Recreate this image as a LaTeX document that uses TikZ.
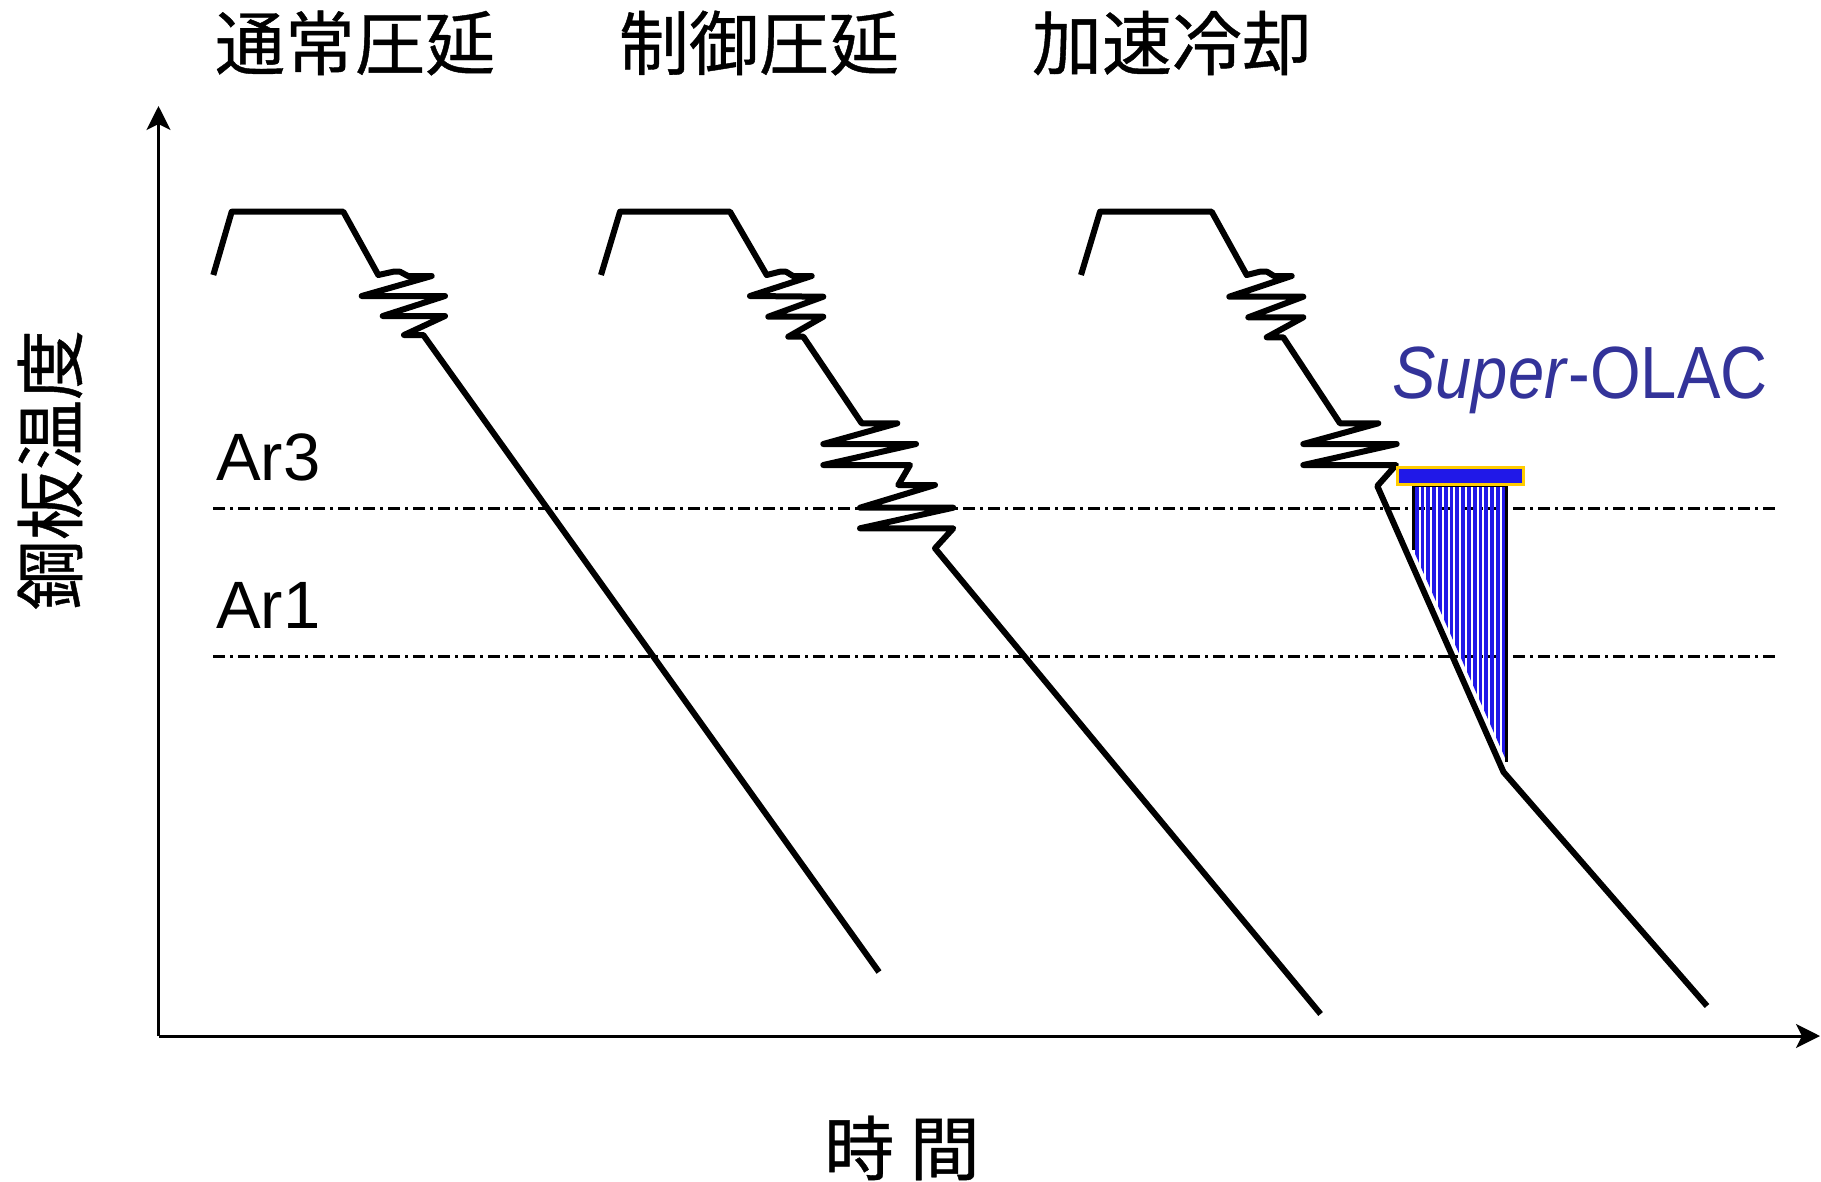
\documentclass[tikz,border=0pt]{standalone}
\usepackage{fontspec}
\setmainfont{Liberation Sans}
\newfontfamily\jpfont[FakeBold=0.6]{Noto Sans CJK JP}
\usetikzlibrary{arrows.meta}
\definecolor{hatchblue}{RGB}{32,24,232}
\definecolor{olacblue}{RGB}{51,51,153}
\definecolor{rimyellow}{RGB}{255,204,0}
\tikzset{
  axisline/.style={line width=3pt, -{Stealth[length=24pt,width=24pt,inset=6pt]}},
  refline/.style={line width=3pt, dash pattern=on 12pt off 5pt on 3pt off 5pt},
  curveline/.style={line width=6pt, line join=round},
  titletext/.style={font=\jpfont\fontsize{70}{80}\selectfont, inner sep=0pt},
  lvltext/.style={font=\fontsize{67}{75}\selectfont, inner sep=0pt, anchor=base west},
}
\begin{document}
\begin{tikzpicture}[x=1pt,y=-1pt]
\useasboundingbox (0,0) rectangle (1821,1181);

% titles
\node[titletext] (t1) at (355,43) {通常圧延};
\node[titletext] (t2) at (759,43) {制御圧延};
\node[titletext] (t3) at (1172,43) {加速冷却};

% axis labels
\node[titletext, rotate=90] (ylab) at (50,470) {鋼板温度};
\node[titletext] (xlab) at (902,1148) {時 間};

% axes
\coordinate (origin) at (158.5,1036);
\coordinate (ytip) at (158.5,106);
\coordinate (xtip) at (1820,1036);
\draw[axisline] (origin) -- (ytip);
\draw[axisline] (origin) -- (xtip);

% reference lines
\coordinate (ar3a) at (213,508);
\coordinate (ar3b) at (1779,508);
\coordinate (ar1a) at (213,656);
\coordinate (ar1b) at (1779,656);
\draw[refline] (ar3a) -- (ar3b);
\draw[refline] (ar1a) -- (ar1b);
\node[lvltext] (ar3) at (216,480) {Ar3};
\node[lvltext] (ar1) at (216,628) {Ar1};

% curve 1: normal rolling
\draw[curveline] (213.3,275) -- (231.7,211.7) -- (343.3,211.7) -- (378.3,275)
  -- (393.3,271.7) -- (400,271.7) -- (408,276) -- (431.7,276)
  -- (361.7,296) -- (445,296) -- (382.7,316) -- (445,316)
  -- (404,335) -- (423.3,335) -- (879,972);

% curve 2: controlled rolling
\draw[curveline] (601,275) -- (620,211.7) -- (730,211.7) -- (766.7,275)
  -- (780,271.7) -- (786,271.7) -- (793,276) -- (811.7,276)
  -- (750,296) -- (823.3,296.7) -- (768.3,316.7) -- (823.3,316.7)
  -- (788.3,336.7) -- (803.3,336.7) -- (861.7,423.3) -- (897.3,423.3)
  -- (823.3,444) -- (916,444) -- (823.3,465) -- (910,465)
  -- (898.3,485) -- (935,485) -- (860,507.7) -- (953.3,507.7)
  -- (860,528.3) -- (953.3,528.3) -- (935,548.3) -- (1320.6,1014);

% curve 3: accelerated cooling
\draw[curveline] (1081,275) -- (1100,211.7) -- (1211.7,211.7) -- (1246.7,275)
  -- (1260,271.7) -- (1267,271.7) -- (1274,276) -- (1291.7,276)
  -- (1229.3,296.7) -- (1303.3,296.7) -- (1248.3,317.3) -- (1303.3,317.3)
  -- (1266.7,337.3) -- (1283.3,337.3) -- (1340,423.3) -- (1378.3,423.3)
  -- (1303.3,444) -- (1396.7,444) -- (1303.3,465) -- (1396,465)
  -- (1377.3,486) -- (1503.5,772) -- (1707,1006);

% Super-OLAC hatched cooling region
\begin{scope}
  \clip (1413.3,485.7) -- (1506.7,485.7) -- (1506.7,761.7) -- (1413.3,550) -- cycle;
  \foreach \i in {0,...,16} {
    \draw[hatchblue, line width=3.7pt] ({1416.7+\i*5.8},480) -- ++(0,290);
  }
\end{scope}
\draw[line width=2.8pt] (1413.3,550) -- (1413.3,485.7) -- (1506.7,485.7) -- (1506.7,761.7);

% cooling device bar
\draw[rimyellow, fill=hatchblue, line width=3pt] (1397,467.5) rectangle (1523,484.5);

% Super-OLAC label
\node[font=\fontsize{74}{84}\selectfont, text=olacblue, inner sep=0pt, anchor=base west, xscale=0.88] (olac) at (1392,398) {\itshape Super\kern3pt\upshape-OLAC};

\end{tikzpicture}
\end{document}
